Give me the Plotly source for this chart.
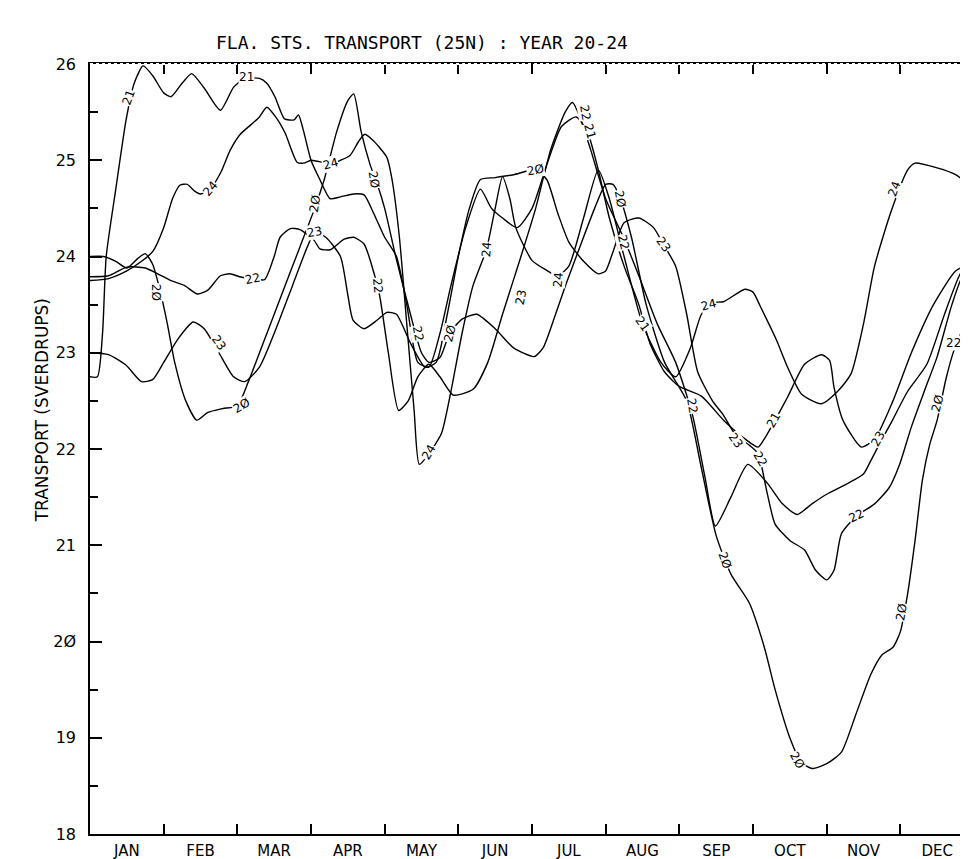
import plotly.graph_objects as go

# month positions (0 = start of Jan, 12 = end of Dec) and transport values (Sv)
m20 = [0, 0.18, 0.35, 0.5, 0.65, 0.75, 0.85, 0.95, 1.05, 1.15, 1.3, 1.45, 1.6, 1.8, 2.0, 2.15, 2.35, 2.6, 2.85, 3.05,
       3.18, 3.35, 3.5, 3.58, 3.68, 3.8, 3.9, 4.0, 4.15, 4.35, 4.5, 4.6, 4.75, 4.88, 5.05, 5.25, 5.5, 5.75, 6.03, 6.15,
       6.32, 6.46, 6.65, 6.85, 7.0, 7.1, 7.2, 7.35, 7.55, 7.8, 8.1, 8.3, 8.5, 8.7, 8.95, 9.15, 9.3, 9.5, 9.65, 9.8,
       10.0, 10.2, 10.4, 10.6, 10.75, 10.9, 11.0, 11.1, 11.2, 11.3, 11.4, 11.5, 11.62, 11.73, 11.86, 12.0]
v20 = [24.0, 24.0, 23.95, 23.88, 23.98, 24.03, 23.92, 23.65, 23.3, 22.9, 22.5, 22.3, 22.38, 22.42, 22.45, 22.7, 23.1, 23.6, 24.1, 24.5,
       24.8, 25.3, 25.62, 25.69, 25.3, 24.96, 24.75, 24.5, 24.0, 23.4, 23.0, 22.9, 22.95, 23.2, 23.35, 23.4, 23.25, 23.05, 22.96, 23.05,
       23.4, 23.71, 24.1, 24.5, 24.75, 24.75, 24.6, 24.2, 23.5, 22.9, 22.5, 21.8, 21.1, 20.7, 20.4, 19.95, 19.5, 19.0, 18.75, 18.68,
       18.73, 18.85, 19.25, 19.66, 19.86, 19.94, 20.1, 20.5, 21.05, 21.68, 22.05, 22.3, 22.73, 23.03, 23.27, 23.5]

m21 = [0, 0.1, 0.17, 0.22, 0.35, 0.49, 0.6, 0.72, 0.85, 1.0, 1.1, 1.25, 1.38, 1.55, 1.77, 1.95, 2.1, 2.3, 2.4, 2.51,
       2.64, 2.77, 2.83, 2.9, 3.0, 3.12, 3.26, 3.4, 3.58, 3.72, 3.85, 4.0, 4.16, 4.3, 4.45, 4.6, 4.75, 4.9, 5.1, 5.3,
       5.45, 5.6, 5.8, 6.0, 6.2, 6.4, 6.6, 6.75, 6.9, 7.05, 7.25, 7.45, 7.6, 7.8, 8.0, 8.3, 8.6, 8.9, 9.07, 9.15,
       9.3, 9.47, 9.7, 9.93, 10.04, 10.1, 10.22, 10.47, 10.65, 10.9, 11.15, 11.45, 11.75, 11.9, 12.0]
v21 = [22.75, 22.75, 23.2, 24.0, 24.7, 25.42, 25.8, 25.98, 25.88, 25.7, 25.66, 25.8, 25.9, 25.75, 25.52, 25.76, 25.85, 25.85, 25.8, 25.66,
       25.43, 25.42, 25.47, 25.3, 25.0, 24.8, 24.6, 24.62, 24.65, 24.64, 24.45, 24.2, 24.0, 23.5, 22.9, 22.85, 23.2, 23.7, 24.3, 24.7,
       24.5, 24.4, 24.3, 24.5, 24.95, 25.35, 25.45, 25.3, 24.9, 24.4, 23.9, 23.5, 23.1, 22.8, 22.65, 22.55, 22.3, 22.1, 22.02, 22.1,
       22.3, 22.54, 22.88, 22.98, 22.92, 22.64, 22.3, 22.02, 22.1, 22.5, 23.0, 23.5, 23.85, 23.9, 23.75]

m22 = [0, 0.25, 0.5, 0.75, 0.92, 1.1, 1.28, 1.46, 1.6, 1.77, 1.9, 2.03, 2.2, 2.37, 2.5, 2.58, 2.72, 2.85, 3.04, 3.12,
       3.26, 3.45, 3.58, 3.72, 3.82, 3.93, 4.05, 4.19, 4.32, 4.45, 4.6, 4.75, 4.93, 5.2, 5.4, 5.6, 5.85, 6.05, 6.25, 6.45,
       6.55, 6.65, 6.8, 7.0, 7.24, 7.45, 7.7, 7.95, 8.18, 8.35, 8.49, 8.7, 8.93, 9.2, 9.4, 9.6, 9.8, 10.0, 10.28, 10.5,
       10.6, 10.75, 10.88, 11.1, 11.36, 11.6, 11.8, 11.9, 12.0]
v22 = [23.79, 23.8, 23.89, 23.88, 23.82, 23.75, 23.7, 23.61, 23.65, 23.8, 23.82, 23.79, 23.77, 23.76, 24.0, 24.2, 24.29, 24.28, 24.17, 24.08,
       24.07, 24.18, 24.2, 24.13, 23.92, 23.6, 23.0, 22.4, 22.5, 22.75, 22.88, 22.75, 22.56, 22.62, 22.9, 23.4, 24.0, 24.5, 25.1, 25.5,
       25.6, 25.45, 25.1, 24.6, 24.2, 23.8, 23.3, 22.9, 22.35, 21.7, 21.2, 21.5, 21.84, 21.64, 21.43, 21.32, 21.43, 21.53, 21.64, 21.74,
       21.88, 22.1, 22.28, 22.6, 22.88, 23.4, 23.8, 23.9, 23.8]

m23 = [0, 0.25, 0.49, 0.7, 0.85, 1.0, 1.2, 1.4, 1.55, 1.75, 1.95, 2.1, 2.3, 2.5, 2.75, 2.95, 3.05, 3.2, 3.4, 3.5,
       3.57, 3.72, 3.9, 4.03, 4.16, 4.35, 4.55, 4.7, 4.85, 5.0, 5.15, 5.3, 5.5, 5.75, 6.05, 6.2, 6.35, 6.5, 6.7, 6.9,
       7.0, 7.1, 7.25, 7.45, 7.65, 7.78, 7.95, 8.1, 8.25, 8.45, 8.6, 8.76, 8.95, 9.07, 9.19, 9.3, 9.5, 9.7, 9.85, 10.0,
       10.1, 10.2, 10.4, 10.65, 10.85, 10.99, 11.15, 11.33, 11.5, 11.7, 11.85, 12.0]
v23 = [23.0, 22.98, 22.87, 22.7, 22.72, 22.9, 23.15, 23.32, 23.25, 23.0, 22.75, 22.7, 22.85, 23.2, 23.7, 24.1, 24.25, 24.2, 24.0, 23.6,
       23.34, 23.25, 23.34, 23.42, 23.4, 23.1, 22.85, 22.9, 23.4, 24.0, 24.5, 24.8, 24.82, 24.85, 24.9, 24.8, 24.45, 24.15, 23.95, 23.82,
       23.85, 24.05, 24.35, 24.4, 24.3, 24.13, 23.9, 23.4, 22.8, 22.5, 22.35, 22.15, 22.04, 21.95, 21.55, 21.22, 21.05, 20.95, 20.74, 20.64,
       20.74, 21.12, 21.3, 21.43, 21.6, 21.84, 22.23, 22.61, 22.96, 23.5, 23.8, 23.85]

m24 = [0, 0.25, 0.5, 0.7, 0.85, 1.0, 1.12, 1.22, 1.32, 1.42, 1.5, 1.63, 1.78, 1.9, 2.04, 2.2, 2.3, 2.4, 2.52, 2.65,
       2.81, 2.9, 3.0, 3.15, 3.26, 3.4, 3.53, 3.65, 3.73, 3.85, 4.03, 4.1, 4.2, 4.3, 4.4, 4.47, 4.6, 4.77, 4.9, 5.05,
       5.2, 5.38, 5.5, 5.6, 5.7, 5.78, 6.0, 6.19, 6.35, 6.5, 6.7, 6.9, 7.05, 7.25, 7.5, 7.75, 7.95, 8.15, 8.3, 8.45,
       8.6, 8.89, 9.0, 9.1, 9.32, 9.47, 9.66, 9.93, 10.15, 10.33, 10.5, 10.65, 10.88, 11.1, 11.2, 11.5, 11.75, 12.0]
v24 = [23.75, 23.77, 23.85, 23.95, 24.05, 24.3, 24.6, 24.74, 24.75, 24.68, 24.65, 24.7, 24.88, 25.1, 25.27, 25.38, 25.45, 25.55, 25.45, 25.28,
       24.98, 24.97, 25.0, 24.98, 24.96, 25.0, 25.05, 25.2, 25.27, 25.2, 25.03, 24.8, 24.2, 23.3, 22.4, 21.84, 21.95, 22.16, 22.6, 23.2,
       23.7, 24.07, 24.5, 24.83, 24.6, 24.3, 23.96, 23.86, 23.8, 23.9, 24.4, 24.9, 24.6, 24.0, 23.3, 22.9, 22.75, 23.05, 23.4, 23.52,
       23.53, 23.66, 23.63, 23.48, 23.13, 22.85, 22.57, 22.47, 22.6, 22.78, 23.3, 23.9, 24.48, 24.9, 24.97, 24.92, 24.85, 24.7]

series = [("20", m20, v20), ("21", m21, v21), ("22", m22, v22), ("23", m23, v23), ("24", m24, v24)]

months = ["JAN", "FEB", "MAR", "APR", "MAY", "JUN", "JUL", "AUG", "SEP", "OCT", "NOV", "DEC"]
y_ticks = [18, 19, 20, 21, 22, 23, 24, 25, 26]
y_text = ["18", "19", "2Ø", "21", "22", "23", "24", "25", "26"]

# in-line curve labels: text, month position, value, rotation
labels = [
    ("21", 0.52, 25.65, -70), ("21", 2.12, 25.86, 0), ("21", 6.78, 25.3, 75), ("21", 7.5, 23.3, 55), ("21", 9.28, 22.3, -60),
    ("24", 1.63, 24.7, -50), ("24", 3.26, 24.96, -15), ("24", 4.6, 21.97, -60), ("24", 5.38, 24.07, -85),
    ("24", 6.35, 23.76, -85), ("24", 8.39, 23.5, -15), ("24", 10.92, 24.7, -70),
    ("22", 2.2, 23.77, -12), ("22", 3.9, 23.7, 85), ("22", 4.46, 23.2, 80), ("22", 6.72, 25.5, 80),
    ("22", 7.24, 24.15, 75), ("22", 8.18, 22.45, 80), ("22", 9.1, 21.9, 60), ("22", 10.4, 21.3, -25), ("22", 11.72, 23.1, 0),
    ("23", 1.75, 23.1, 55), ("23", 3.05, 24.25, -10), ("23", 5.85, 23.58, -80), ("23", 7.78, 24.13, 55),
    ("23", 8.76, 22.09, 55), ("23", 10.7, 22.1, -60),
    ("2Ø", 0.9, 23.63, 90), ("2Ø", 2.05, 22.45, -30), ("2Ø", 3.05, 24.55, -80), ("2Ø", 3.86, 24.8, 80),
    ("2Ø", 4.88, 23.2, -75), ("2Ø", 6.05, 24.9, -10), ("2Ø", 7.2, 24.6, 80), ("2Ø", 8.62, 20.85, 70),
    ("2Ø", 9.6, 18.77, 60), ("2Ø", 11.01, 20.3, -80), ("2Ø", 11.5, 22.47, -75),
]

fig = go.Figure()
for name, mx, vy in series:
    fig.add_trace(go.Scatter(x=mx, y=vy, mode="lines", name=name,
                             line=dict(color="black", width=1.4, shape="spline", smoothing=0.6)))

for txt, mx, vy, ang in labels:
    fig.add_annotation(x=mx, y=vy, text=txt, showarrow=False, textangle=ang,
                       font=dict(family="DejaVu Sans", size=12, color="black"),
                       bgcolor="white", borderpad=0)

fig.add_annotation(x=0.376, y=1.044, xref="paper", yref="paper", showarrow=False,
                   text="FLA. STS. TRANSPORT (25N) : YEAR 20-24",
                   font=dict(family="DejaVu Sans Mono", size=18, color="black"))

fig.add_annotation(x=-0.067, y=0.55, xref="paper", yref="paper", showarrow=False,
                   text="TRANSPORT (SVERDRUPS)", textangle=-90,
                   font=dict(family="DejaVu Sans", size=17, color="black"))

# broken top frame like the plotter output
fig.add_shape(type="line", xref="paper", yref="paper", x0=0, x1=1, y0=1, y1=1,
              line=dict(color="white", width=2, dash="dot"), layer="above")

fig.update_layout(
    width=968, height=859,
    margin=dict(l=82, r=0, t=56, b=33),
    paper_bgcolor="white", plot_bgcolor="white",
    showlegend=False,
    font=dict(family="DejaVu Sans", color="black"),
)
fig.update_xaxes(range=[0, 12], showgrid=False, zeroline=False,
                 showline=True, linecolor="black", linewidth=1.5, mirror="ticks",
                 tickvals=[i + 0.5 for i in range(12)], ticktext=months, ticks="",
                 ticklabelstandoff=2,
                 tickfont=dict(family="DejaVu Sans", size=15),
                 minor=dict(tickvals=list(range(1, 12)), ticks="inside", ticklen=10,
                            tickcolor="black", tickwidth=1.5))
fig.update_yaxes(range=[18, 26], showgrid=False, zeroline=False,
                 showline=True, linecolor="black", linewidth=1.5, mirror="ticks",
                 tickvals=y_ticks, ticktext=y_text, ticks="inside", ticklen=12,
                 tickcolor="black", tickwidth=1.5, ticklabelstandoff=9,
                 tickfont=dict(family="DejaVu Sans", size=16),
                 minor=dict(tickvals=[v + 0.5 for v in range(18, 26)], ticks="inside", ticklen=8,
                            tickcolor="black", tickwidth=1.5))

fig.write_html("out.html")
